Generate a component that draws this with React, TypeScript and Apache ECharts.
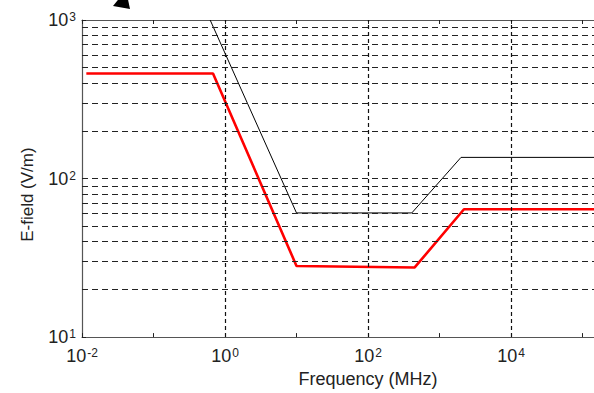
import React, { useEffect, useRef } from "react";
import * as echarts from "echarts";

const X_MIN = 0.01;
const X_MAX = 144900;
const Y_MIN = 10;
const Y_MAX = 1000;

const xTickValues = [0.01, 0.1, 1, 10, 100, 1000, 10000, 100000];
const xLabelValues = [0.01, 1, 100, 10000];
const xGridValues = [1, 100, 10000];

const yLabelValues = [10, 100, 1000];
const yTickValues = [10, 20, 30, 40, 50, 60, 70, 80, 90, 100, 200, 300, 400, 500, 600, 700, 800, 900, 1000];
const yGridValues = [20, 30, 40, 50, 60, 70, 80, 90, 100, 200, 300, 400, 500, 600, 700, 800, 900];

// Red limit curve (frequency MHz, E-field V/m)
const redFreq = [0.0115, 0.68, 10, 450, 2200, 144900];
const redField = [460, 460, 28.1, 27.5, 64, 64];

// Black limit curve
const blackFreq = [0.62, 10, 410, 2000, 144900];
const blackField = [1000, 60.7, 60.7, 136, 136];

const FONT = "Liberation Sans, Arial, sans-serif";

function supLabel(v: number) {
  const e = Math.round(Math.log10(v));
  return `{b|10}{s|${e}}`;
}

const richStyle = {
  b: { fontSize: 18, fontFamily: FONT, color: "#222" },
  s: { fontSize: 12, fontFamily: FONT, color: "#222", verticalAlign: "top", padding: [0, 0, 0, 1] },
};

export default function App() {
  const ref = useRef<HTMLDivElement>(null);
  useEffect(() => {
    if (!ref.current) return;
    const chart = echarts.init(ref.current, undefined, { renderer: "svg" });
    const axisLine = { show: true, lineStyle: { color: "#555", width: 1.2 } };
    chart.setOption({
      animation: false,
      backgroundColor: "#fff",
      grid: { left: 82, top: 20, width: 512, height: 328, containLabel: false },
      xAxis: [
        {
          type: "log",
          min: X_MIN,
          max: X_MAX,
          position: "bottom",
          axisLine,
          axisTick: { show: true, inside: true, length: 4, customValues: xTickValues, lineStyle: { color: "#222" } },
          axisLabel: {
            show: true,
            customValues: xLabelValues,
            margin: 10,
            formatter: (v: number) => supLabel(v),
            rich: richStyle,
          },
          splitLine: { show: false },
          name: "Frequency (MHz)",
          nameLocation: "middle",
          nameGap: 27,
          nameTextStyle: { fontSize: 18, fontFamily: FONT, color: "#222", padding: [0, 0, 0, 60] },
        },
        {
          type: "log",
          min: X_MIN,
          max: X_MAX,
          position: "top",
          axisLine,
          axisTick: { show: true, inside: true, length: 4, customValues: xTickValues, lineStyle: { color: "#222" } },
          axisLabel: { show: false },
          splitLine: { show: false },
        },
      ],
      yAxis: {
        type: "log",
        min: Y_MIN,
        max: Y_MAX,
        axisLine,
        axisTick: { show: true, inside: true, length: 4, customValues: yTickValues, lineStyle: { color: "#222" } },
        axisLabel: {
          show: true,
          customValues: yLabelValues,
          margin: 6,
          formatter: (v: number) => supLabel(v),
          rich: richStyle,
        },
        splitLine: { show: false },
        name: "E-field (V/m)",
        nameLocation: "middle",
        nameGap: 46,
        nameRotate: 90,
        nameTextStyle: { fontSize: 17, fontFamily: FONT, color: "#222", padding: [0, 32, 0, 0] },
      },
      graphic: [
        {
          type: "polygon",
          shape: { points: [[113, 6], [130, 9], [126, -10]] },
          style: { fill: "#000" },
        },
      ],
      series: [
        {
          type: "line",
          data: [],
          z: 1,
          silent: true,
          markLine: {
            silent: true,
            symbol: "none",
            label: { show: false },
            animation: false,
            data: [
              ...yGridValues.map((v) => ({ yAxis: v, lineStyle: { color: "#222", width: 1, type: [6, 4] } })),
              ...xGridValues.map((v) => ({ xAxis: v, lineStyle: { color: "#111", width: 1.2, type: [4, 3] } })),
            ],
          },
        },
        {
          type: "line",
          z: 3,
          data: blackFreq.map((f, i) => [f, blackField[i]]),
          symbol: "none",
          lineStyle: { color: "#000", width: 1 },
        },
        {
          type: "line",
          z: 4,
          data: redFreq.map((f, i) => [f, redField[i]]),
          symbol: "none",
          lineStyle: { color: "#ff0000", width: 2.6 },
        },
      ],
    });
    return () => chart.dispose();
  }, []);
  return (
    <div
      ref={ref}
      style={{ position: "absolute", left: 0, top: 0, width: 594, height: 393 }}
    />
  );
}
